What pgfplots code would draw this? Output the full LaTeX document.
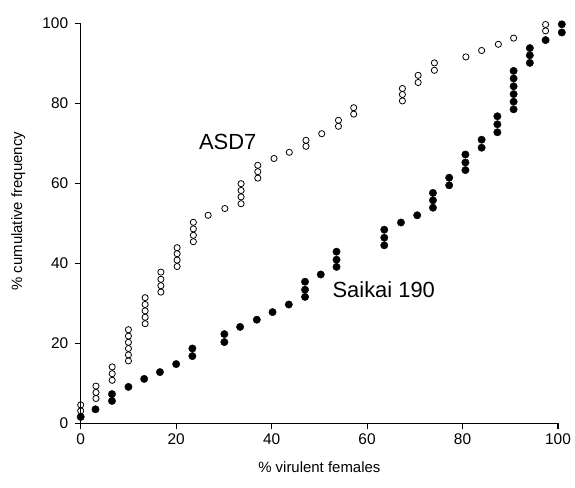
\documentclass[border=0pt]{standalone}
\usepackage{pgfplots}
\pgfplotsset{compat=1.18}
\usepackage{fontspec}
\setmainfont{Liberation Sans}
\begin{document}
\begin{tikzpicture}
\begin{axis}[
  at={(0,0)}, anchor=south west,
  scale only axis, width=477.3bp, height=400bp,
  xmin=0, xmax=100, ymin=0, ymax=100,
  axis x line=bottom, axis y line=left,
  axis line style={-, line width=1.1bp},
  tick style={line width=1.1bp, black},
  major tick length=6bp, tick align=outside,
  xtick={0,20,40,60,80,100}, ytick={0,20,40,60,80,100},
  /pgf/number format/assume math mode=true,
  ticklabel style={font=\fontsize{15.5}{15.5}\selectfont},
  yticklabel style={xshift=-3bp},
  xticklabel style={yshift=-1bp},
  xlabel={\% virulent females}, ylabel={\% cumulative frequency},
  every axis x label/.style={at={(axis description cs:0.5,-0.11)}, anchor=center, font=\fontsize{15}{15}\selectfont},
  every axis y label/.style={at={(axis description cs:-0.131,0.53)}, anchor=center, rotate=90, font=\fontsize{15}{15}\selectfont},
  clip=false,
]
\addplot[only marks, mark=o, mark size=3.1bp, mark options={line width=0.8bp, black}] coordinates {
(0,3.1)(0,4.6)
(3.2,6.2)(3.2,7.7)(3.2,9.3)
(6.6,10.75)(6.6,12.4)(6.6,14.1)
(10,15.6)(10,17.1)(10,18.7)(10,20.25)(10,21.8)(10,23.4)
(13.5,24.9)(13.5,26.5)(13.5,28.1)(13.5,29.7)(13.5,31.4)
(16.8,32.8)(16.8,34.4)(16.8,36.0)(16.8,37.8)
(20.2,39.2)(20.2,40.8)(20.2,42.4)(20.2,43.9)
(23.6,45.4)(23.6,47.0)(23.6,48.6)(23.6,50.25)
(26.7,52)
(30.2,53.7)
(33.6,54.9)(33.6,56.6)(33.6,58.2)(33.6,59.9)
(37.1,61.3)(37.1,62.9)(37.1,64.5)
(40.5,66.2)
(43.7,67.75)
(47.2,69.25)(47.2,70.75)
(50.5,72.4)
(54,74.25)(54,75.75)
(57.2,77.3)(57.2,78.9)
(67.4,80.6)(67.4,82.2)(67.4,83.7)
(70.7,85.2)(70.7,87)
(74.1,88.25)(74.1,90.1)
(80.7,91.6)
(84,93.2)
(87.5,94.75)
(90.7,96.3)
(97.4,98.1)(97.4,99.7)
};
\addplot[only marks, mark=*, mark size=3.7bp, mark options={black, fill=black}] coordinates {
(0,1.6)
(3.1,3.5)
(6.55,5.6)(6.55,7.3)
(10,9.1)
(13.3,11.1)
(16.6,12.8)
(20,14.8)
(23.4,16.8)(23.4,18.7)
(30.1,20.3)(30.1,22.3)
(33.4,24.1)
(36.9,25.9)
(40.2,27.8)
(43.6,29.7)
(47,31.6)(47,33.4)(47,35.4)
(50.3,37.2)
(53.6,39.1)(53.6,40.9)(53.6,42.9)
(63.6,44.5)(63.6,46.4)(63.6,48.4)
(67.1,50.2)
(70.5,52)
(73.8,53.9)(73.8,55.75)(73.8,57.6)
(77.2,59.5)(77.2,61.4)
(80.6,63.3)(80.6,65.2)(80.6,67.2)
(84,68.9)(84,70.9)
(87.3,72.75)(87.3,74.75)(87.3,76.75)
(90.7,78.5)(90.7,80.4)(90.7,82.3)(90.7,84.25)(90.7,86.2)(90.7,88.1)
(94.1,90.1)(94.1,92)(94.1,93.8)
(97.4,95.8)
(100.8,97.7)(100.8,99.75)
};
\node[font=\fontsize{22}{22}\selectfont] at (axis cs:30.8,70.4) {ASD7};
\node[font=\fontsize{22}{22}\selectfont] at (axis cs:63.5,33.3) {Saikai 190};
\end{axis}
\pgfresetboundingbox
\path[use as bounding box] (-80.7bp,-64.7bp) rectangle (494.3bp,423.3bp);
\end{tikzpicture}
\end{document}
